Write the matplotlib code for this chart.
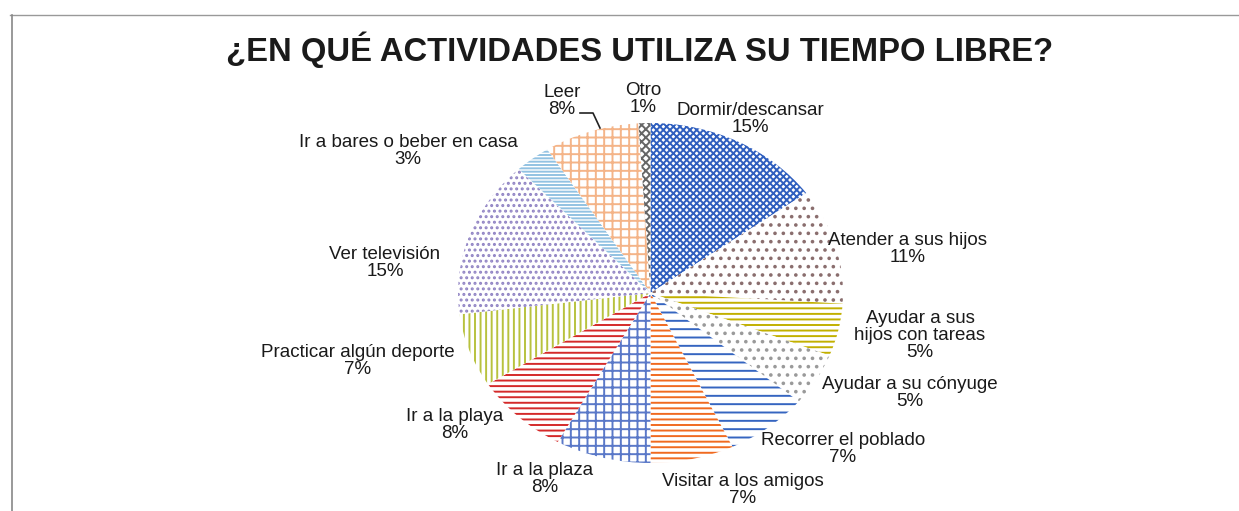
import matplotlib
matplotlib.use("Agg")
import matplotlib.pyplot as plt
from matplotlib.lines import Line2D

# Data (clockwise from 12 o'clock)
labels = ["Dormir/descansar", "Atender a sus hijos", "Ayudar a sus\nhijos con tareas",
          "Ayudar a su cónyuge", "Recorrer el poblado", "Visitar a los amigos",
          "Ir a la plaza", "Ir a la playa", "Practicar algún deporte",
          "Ver televisión", "Ir a bares o beber en casa", "Leer", "Otro"]
values = [15, 11, 5, 5, 7, 7, 8, 8, 7, 15, 3, 8, 1]

# style per slice: (hatch, colour)
styles = [("xxxxx", "#2F5FBF"), ("..", "#8A6E6E"), ("---", "#C2B000"),
          ("..", "#9A9A9A"), ("--", "#3565C0"), ("---", "#F06A20"),
          ("++", "#5A78C8"), ("---", "#D42A2A"), ("|||", "#B8C23E"),
          ("...", "#9184C4"), ("-----", "#92C2E2"), ("++", "#F4B488"),
          ("xxxx", "#666666")]

# label positions in pixels (centre x, centre y of the text block)
label_pos = [(750, 119), (908, 249), (920, 335), (910, 393), (843, 449),
             (743, 490), (545, 479), (455, 425), (358, 361), (385, 263),
             (408, 151), (562, 101), (643, 99)]

W, H = 1239, 511
plt.rcParams['font.family'] = ['Liberation Sans', 'DejaVu Sans']
plt.rcParams['hatch.linewidth'] = 1.4

fig = plt.figure(figsize=(W / 100, H / 100), dpi=100)


def px(x, y):
    return x / W, 1 - y / H


# pie area: left 458..843, top 123..463
ax = fig.add_axes([458 / W, 1 - 463 / H, 385 / W, 340 / H])
wedges, _ = ax.pie(values, startangle=90, counterclock=False,
                   colors=["white"] * len(values),
                   wedgeprops=dict(linewidth=0))
for w, (h, c) in zip(wedges, styles):
    w.set_hatch(h)
    w.set_edgecolor(c)
    w.set_linewidth(0)
ax.set_aspect('auto')
ax.set_xlim(-1, 1)
ax.set_ylim(-1, 1)
ax.axis('off')

fig.text(*px(640, 50), "¿EN QUÉ ACTIVIDADES UTILIZA SU TIEMPO LIBRE?",
         ha='center', va='center', fontsize=23.6, fontweight='bold', color='#1a1a1a')

for lab, v, (x, y) in zip(labels, values, label_pos):
    fig.text(*px(x, y), f"{lab}\n{v}%", ha='center', va='center',
             fontsize=13.5, color='#1a1a1a', linespacing=1.0)

# leader line for "Leer"
xs = [580, 593, 600]
ys = [113, 113, 128]
fig.add_artist(Line2D([x / W for x in xs], [1 - y / H for y in ys],
                      color='#222222', lw=1.2))

# frame lines of the chart area
fig.add_artist(Line2D([10 / W, 1], [1 - 15 / H, 1 - 15 / H], color='#999999', lw=1))
fig.add_artist(Line2D([12 / W, 12 / W], [1 - 15 / H, 0], color='#888888', lw=1.2))

fig.savefig("out.png", dpi=100)
